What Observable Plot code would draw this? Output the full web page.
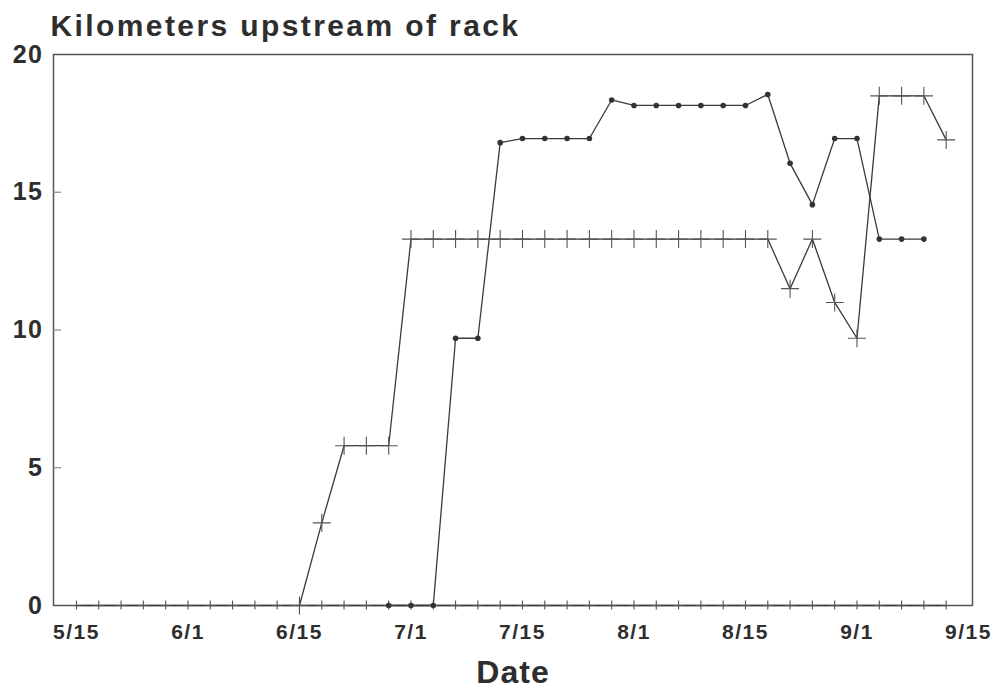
<!DOCTYPE html>
<html>
<head>
<meta charset="utf-8">
<script src="https://cdn.jsdelivr.net/npm/d3@7"></script>
<script src="https://cdn.jsdelivr.net/npm/@observablehq/plot@0.6"></script>
<style>
  body { margin: 0; background: #fff; }
  .ttl, .ttl text { letter-spacing: 2.4px; }
  .xlab, .xlab text { letter-spacing: 1px; }
</style>
</head>
<body>
<div id="chart"></div>
<script>
// Sampling occasions (evenly spaced survey index) and their date tick labels
const tickIndex  = [0, 5, 10, 15, 20, 25, 30, 35, 40];
const tickLabels = ["5/15", "6/1", "6/15", "7/1", "7/15", "8/1", "8/15", "9/1", "9/15"];
const yTicks = [0, 5, 10, 15, 20];
const yInnerTicks = [5, 10, 15];

// Fish A ("+" markers)
const fishA_index = [10, 11, 12, 13, 14, 15, 16, 17, 18, 19, 20, 21, 22, 23, 24, 25, 26, 27, 28, 29, 30, 31, 32, 33, 34, 35, 36, 37, 38, 39];
const fishA_km    = [0, 3.0, 5.8, 5.8, 5.8, 13.3, 13.3, 13.3, 13.3, 13.3, 13.3, 13.3, 13.3, 13.3, 13.3, 13.3, 13.3, 13.3, 13.3, 13.3, 13.3, 13.3, 11.5, 13.3, 11.0, 9.7, 18.5, 18.5, 18.5, 16.9];

// Fish B (dot markers)
const fishB_index = [14, 15, 16, 17, 18, 19, 20, 21, 22, 23, 24, 25, 26, 27, 28, 29, 30, 31, 32, 33, 34, 35, 36, 37, 38];
const fishB_km    = [0, 0, 0, 9.7, 9.7, 16.8, 16.95, 16.95, 16.95, 16.95, 18.35, 18.15, 18.15, 18.15, 18.15, 18.15, 18.15, 18.55, 16.05, 14.55, 16.95, 16.95, 13.3, 13.3, 13.3];

// Fish C (stayed at the rack, small "+" markers)
const fishC_index = [0, 1, 2, 3, 4, 5, 6, 7, 8, 9, 10, 11, 12, 13, 14, 15, 16, 17, 18, 19, 20, 21, 22, 23, 24, 25, 26, 27, 28, 29, 30, 31, 32, 33, 34, 35, 36, 37, 38, 39];
const fishC_km    = [0, 0, 0, 0, 0, 0, 0, 0, 0, 0, 0, 0, 0, 0, 0, 0, 0, 0, 0, 0, 0, 0, 0, 0, 0, 0, 0, 0, 0, 0, 0, 0, 0, 0, 0, 0, 0, 0, 0, 0];

const rows = (name, xs, ys) => xs.map((x, i) => ({series: name, idx: x, km: ys[i]}));
const A = rows("A", fishA_index, fishA_km);
const B = rows("B", fishB_index, fishB_km);
const C = rows("C", fishC_index, fishC_km);
const all = [...C, ...A, ...B];

const plusBig = {draw(ctx) { ctx.moveTo(-9, 0); ctx.lineTo(9, 0); ctx.moveTo(0, -9); ctx.lineTo(0, 9); }};
const plusSmall = {draw(ctx) { ctx.moveTo(-5, 0); ctx.lineTo(5, 0); ctx.moveTo(0, -5); ctx.lineTo(0, 4); }};

const chart = Plot.plot({
  width: 998,
  height: 690,
  marginLeft: 53,
  marginRight: 26,
  marginTop: 54,
  marginBottom: 85,
  style: {fontFamily: "'Liberation Sans', Arial, sans-serif", background: "#fff", color: "#2e2e2e"},
  x: {type: "linear", domain: [-1.03, 40.18]},
  y: {domain: [0, 20]},
  marks: [
    Plot.frame({stroke: "#555", strokeWidth: 1.5}),
    Plot.ruleY(yInnerTicks, {y: d => d, insetRight: 911, stroke: "#888", strokeWidth: 1.2}),
    Plot.axisY({ticks: yTicks, tickSize: 0, tickPadding: 10, fontSize: 25, fontWeight: "bold", label: null}),
    Plot.axisX({ticks: tickIndex, tickSize: 0, tickPadding: 19, fontSize: 21, fontWeight: "bold", label: null,
      tickFormat: d => tickLabels[tickIndex.indexOf(d)]}),
    Plot.line(all, {x: "idx", y: "km", z: "series", stroke: "#3a3a3a", strokeWidth: 1.3}),
    Plot.dot(C, {x: "idx", y: "km", symbol: plusSmall, fill: "none", stroke: "#555", strokeWidth: 1.1}),
    Plot.dot(A, {x: "idx", y: "km", symbol: plusBig, fill: "none", stroke: "#555", strokeWidth: 1.1}),
    Plot.dot(B, {x: "idx", y: "km", r: 2.8, fill: "#333", stroke: "none"}),
    Plot.text(["Kilometers upstream of rack"], {text: d => d, frameAnchor: "top-left", textAnchor: "start",
      lineAnchor: "middle", dx: -3, dy: -28, fontSize: 30, fontWeight: "bold", fill: "#2e2e2e", className: "ttl"}),
    Plot.text(["Date"], {text: d => d, frameAnchor: "bottom", dy: 77, fontSize: 32, fontWeight: "bold",
      fill: "#2e2e2e", className: "xlab"})
  ]
});
// letter spacing for the wide lettering of the original
d3.select(chart).selectAll("g[aria-label='text'] text").style("letter-spacing", function() {
  return this.textContent === "Date" ? "1px" : "2.4px";
});
d3.select(chart).selectAll("g[aria-label='x-axis tick label'] text").style("letter-spacing", "1.5px");
d3.select(chart).selectAll("g[aria-label='y-axis tick label'] text").style("letter-spacing", "1.5px");
document.getElementById("chart").append(chart);
</script>
</body>
</html>
